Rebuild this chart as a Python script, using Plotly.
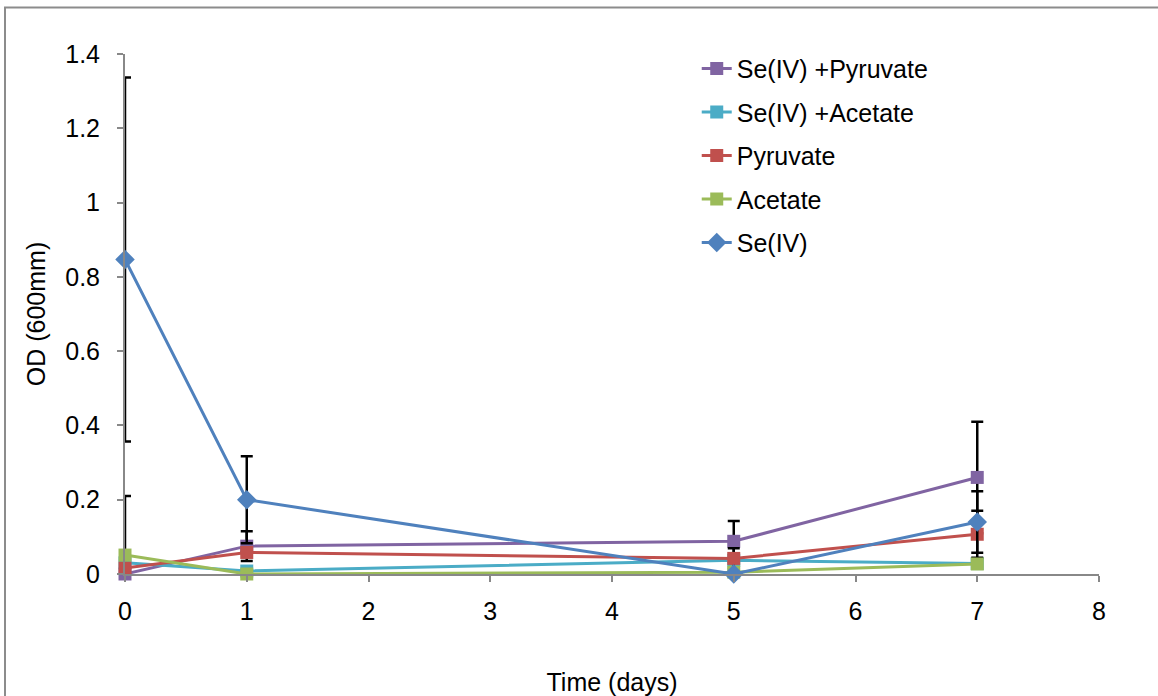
import numpy as np
import plotly.graph_objects as go

# Sampling days
days = [0, 1, 5, 7]

# Optical density readings per treatment
se_pyruvate = [0.0, 0.075, 0.088, 0.26]
se_acetate = [0.03, 0.008, 0.037, 0.028]
pyruvate = [0.016, 0.058, 0.042, 0.107]
acetate = [0.051, 0.0, 0.005, 0.027]
se_iv = [0.847, 0.2, 0.0, 0.14]

# Standard deviations (NaN where no bar is shown)
se_pyruvate_err = [0.21, 0.04, 0.055, 0.15]
pyruvate_err = [np.nan, np.nan, 0.027, 0.063]
se_iv_err = [0.49, 0.117, np.nan, 0.083]

x_ticks = [0, 1, 2, 3, 4, 5, 6, 7, 8]
y_ticks = [0, 0.2, 0.4, 0.6, 0.8, 1.0, 1.2, 1.4]
y_tick_text = ["0", "0.2", "0.4", "0.6", "0.8", "1", "1.2", "1.4"]

FONT = "Liberation Sans, Arial, sans-serif"
FS = 25


def err(values):
    if values is None:
        return None
    return dict(type="data", array=values, visible=True, color="black",
                thickness=2.5, width=6)


series = [
    ("Se(IV) +Pyruvate", se_pyruvate, se_pyruvate_err, "#8064A2", "square", 13),
    ("Se(IV) +Acetate", se_acetate, None, "#4BACC6", "square", 13),
    ("Pyruvate", pyruvate, pyruvate_err, "#C0504D", "square", 13),
    ("Acetate", acetate, None, "#9BBB59", "square", 13),
    ("Se(IV)", se_iv, se_iv_err, "#4F81BD", "diamond", 15),
]

fig = go.Figure()
for name, vals, errs, color, symbol, size in series:
    fig.add_trace(go.Scatter(
        x=days, y=vals, name=name, mode="lines+markers",
        legendgroup=name,
        line=dict(color=color, width=3),
        marker=dict(symbol=symbol, size=size, color=color),
        error_y=err(errs),
        cliponaxis=False,
    ))

# Outer chart frame (left and top edges visible)
fig.add_shape(type="path", xref="paper", yref="paper",
              path="M -0.1232,-0.4 L -0.1232,1.0894 L 1.2,1.0894",
              line=dict(color="#8C8C8C", width=2))

fig.update_layout(
    width=1158, height=696,
    margin=dict(l=125, r=59, t=54, b=122, autoexpand=False),
    paper_bgcolor="white", plot_bgcolor="white",
    font=dict(family=FONT, size=FS, color="black"),
    showlegend=True,
    legend=dict(x=0.587, y=1.016, xanchor="left", yanchor="top",
                traceorder="grouped", tracegroupgap=8,
                font=dict(family=FONT, size=FS, color="black"),
                bgcolor="rgba(0,0,0,0)"),
    xaxis=dict(range=[0, 8], tickvals=x_ticks, showgrid=False, zeroline=False,
               showline=True, linecolor="#888888", linewidth=2,
               ticks="outside", ticklen=6, tickcolor="#888888", tickwidth=2,
               tickfont=dict(size=FS), ticklabelstandoff=8, automargin=False,
               title=dict(text="Time (days)", font=dict(size=FS), standoff=50)),
    yaxis=dict(range=[0, 1.4], tickvals=y_ticks, ticktext=y_tick_text,
               showgrid=False, zeroline=False,
               showline=True, linecolor="#888888", linewidth=2,
               ticks="outside", ticklen=6, tickcolor="#888888", tickwidth=2,
               tickfont=dict(size=FS), ticklabelstandoff=12, automargin=False,
               title=dict(text="OD (600mm)", font=dict(size=FS), standoff=12)),
)

fig.write_html("out.html")
